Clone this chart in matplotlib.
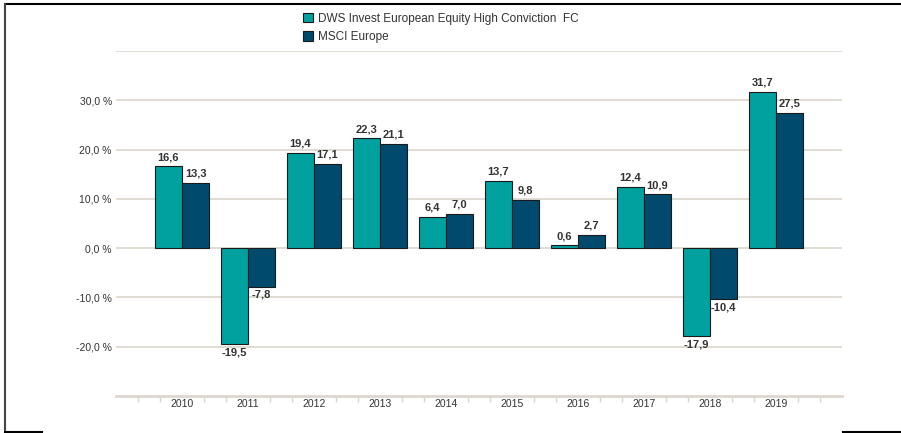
import numpy as np
import matplotlib
matplotlib.use("Agg")
import matplotlib.pyplot as plt
from matplotlib.patches import Patch
from matplotlib.lines import Line2D

plt.rcParams["font.family"] = ["Liberation Sans", "DejaVu Sans"]

years = ["2010", "2011", "2012", "2013", "2014", "2015", "2016", "2017", "2018", "2019"]
fund = [16.6, -19.5, 19.4, 22.3, 6.4, 13.7, 0.6, 12.4, -17.9, 31.7]
index = [13.3, -7.8, 17.1, 21.1, 7.0, 9.8, 2.7, 10.9, -10.4, 27.5]
fund_name = "DWS Invest European Equity High Conviction  FC"
index_name = "MSCI Europe"

TEAL = "#00a19f"
NAVY = "#004a6e"
GRID = "#dedad1"
TXT = "#333333"

fig = plt.figure(figsize=(9.01, 4.33), dpi=100)
ax = fig.add_axes([116 / 901, 1 - 396 / 433, (842 - 116) / 901, (396 - 51) / 433])

x = np.arange(len(years))
w = 0.41
b1 = ax.bar(x - w / 2, fund, w, color=TEAL, edgecolor="#1a1a1a", lw=0.8, zorder=3)
b2 = ax.bar(x + w / 2, index, w, color=NAVY, edgecolor="#1a1a1a", lw=0.8, zorder=3)

for bars, vals in ((b1, fund), (b2, index)):
    for r, v in zip(bars, vals):
        xc = r.get_x() + r.get_width() / 2
        lab = f"{v:.1f}".replace(".", ",")
        if v >= 0:
            ax.annotate(lab, (xc, v), xytext=(0, 3), textcoords="offset points",
                        ha="center", va="bottom", fontsize=8, fontweight="bold", color=TXT)
        else:
            ax.annotate(lab, (xc, v), xytext=(0, -2), textcoords="offset points",
                        ha="center", va="top", fontsize=8, fontweight="bold", color=TXT)

ax.set_xlim(-1, 10)
ax.set_ylim(-30, 40)
ax.set_yticks([-20, -10, 0, 10, 20, 30])
ax.set_yticklabels([f"{t:.1f} %".replace(".", ",") for t in [-20, -10, 0, 10, 20, 30]],
                   fontsize=7.5, color=TXT)
for yv in range(-20, 50, 10):
    ax.axhline(yv, color=GRID, lw=1.3, zorder=1)
ax.tick_params(axis="y", length=0, pad=3)

ax.set_xticks(x)
ax.set_xticklabels(years, fontsize=7.5, color=TXT)
ax.tick_params(axis="x", length=0, pad=2)
minor = [i / 3 for i in range(-3, 31) if i % 3 != 0]
ax.set_xticks(minor, minor=True)
ax.tick_params(axis="x", which="minor", length=4, width=1, color="#d8d4ca", direction="out")

for s in ("top", "right", "left"):
    ax.spines[s].set_visible(False)
ax.spines["bottom"].set_color("#dcd8ce")
ax.spines["bottom"].set_linewidth(2)

handles = [Patch(facecolor=TEAL, edgecolor="#1a1a1a", lw=0.8, label=fund_name),
           Patch(facecolor=NAVY, edgecolor="#1a1a1a", lw=0.8, label=index_name)]
fig.legend(handles=handles, loc="upper left", bbox_to_anchor=(292 / 901, 1 - 2 / 433),
           frameon=False, fontsize=8.5, handlelength=0.9, handleheight=0.9,
           handletextpad=0.4, labelspacing=0.55, labelcolor=TXT)

# page frame fragments
def fl(x0, y0, x1, y1, c="black", lw=1.5):
    fig.add_artist(Line2D([x0 / 901, x1 / 901], [1 - y0 / 433, 1 - y1 / 433],
                          color=c, lw=lw, transform=fig.transFigure))

fl(5, 4, 901, 4)
fl(5, 4, 5, 432, c="#444444")
fl(5, 432, 42, 432)
fl(843, 432, 901, 432)

fig.savefig("out.png", dpi=100, facecolor="white")
